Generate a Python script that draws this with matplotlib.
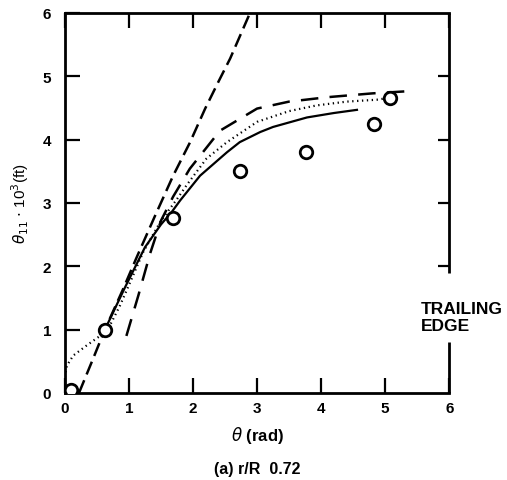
import matplotlib.pyplot as plt
import numpy as np

plt.rcParams['font.family'] = ['Liberation Sans', 'DejaVu Sans']
plt.rcParams['mathtext.fontset'] = 'dejavusans'

# measured points (circles)
meas_x = [0.10, 0.62, 1.68, 2.74, 3.77, 4.82, 5.07]
meas_y = [0.05, 0.99, 2.77, 3.50, 3.80, 4.25, 4.66]

# steep long-dash curve
steep_x = [0.22, 0.44, 0.62, 0.90, 1.12, 1.40, 1.69, 1.95, 2.19, 2.40, 2.58, 2.89]
steep_y = [0.0, 0.54, 0.99, 1.62, 2.14, 2.78, 3.43, 3.95, 4.49, 4.92, 5.28, 6.0]

# medium dash curve
dash_x = [0.96, 1.15, 1.33, 1.50, 1.69, 1.95, 2.42, 3.00, 3.50, 4.10, 4.80, 5.45]
dash_y = [0.90, 1.55, 2.20, 2.72, 3.10, 3.54, 4.14, 4.49, 4.60, 4.67, 4.73, 4.77]

# solid curve
solid_x = [0.62, 0.94, 1.25, 1.50, 1.67, 1.80, 2.11, 2.53, 2.73, 3.05, 3.25, 3.78, 4.20, 4.56]
solid_y = [0.99, 1.67, 2.30, 2.66, 2.86, 3.04, 3.43, 3.80, 3.96, 4.12, 4.20, 4.35, 4.42, 4.47]

# dotted curve
dot_x = [0.0, 0.03, 0.13, 0.34, 0.52, 0.62, 0.70, 0.86, 1.02, 1.22, 1.50, 1.75, 1.90,
         2.21, 2.53, 3.00, 3.50, 3.93, 4.40, 4.87, 5.00]
dot_y = [0.25, 0.43, 0.59, 0.75, 0.88, 0.95, 1.06, 1.38, 1.75, 2.22, 2.72, 3.06, 3.28,
         3.70, 3.96, 4.28, 4.45, 4.54, 4.60, 4.63, 4.65]

fig = plt.figure(figsize=(5.07, 4.81), dpi=100)
ax = fig.add_axes([0.128, 0.181, 0.758, 0.79])

ax.plot(steep_x, steep_y, color='black', lw=1.8, dashes=(5.5, 2.5))
ax.plot(dash_x, dash_y, color='black', lw=1.8, dashes=(7, 4.5))
ax.plot(solid_x, solid_y, color='black', lw=1.6)
ax.plot(dot_x, dot_y, color='black', lw=1.6, linestyle=(0, (0.6, 1.6)))
ax.plot(meas_x, meas_y, 'o', ms=9, mfc='white', mec='black', mew=2.0, zorder=5)

ax.set_xlim(0, 6)
ax.set_ylim(0, 6)
ax.set_xticks(range(7))
ax.set_yticks(range(7))
ax.tick_params(direction='in', length=11, width=1.6, top=True, right=True,
               labelsize=11)
ax.tick_params(axis='x', pad=6)
ax.tick_params(axis='y', pad=10)
for lab in ax.get_xticklabels() + ax.get_yticklabels():
    lab.set_fontweight('bold')
for s in ax.spines.values():
    s.set_linewidth(2.0)

# gap in right spine for the trailing-edge label
ax.spines['right'].set_visible(False)
ax.plot([6, 6], [0, 0.8], color='black', lw=2.0, clip_on=False, solid_capstyle='butt')
ax.plot([6, 6], [1.9, 6], color='black', lw=2.0, clip_on=False, solid_capstyle='butt')
ax.tick_params(right=False)
for yv in [2, 3, 4, 5]:
    ax.plot([5.83, 6], [yv, yv], color='black', lw=1.6, solid_capstyle='butt')

ax.text(5.55, 1.2, 'TRAILING\nEDGE', fontsize=12.5, fontweight='bold',
        ha='left', va='center', linespacing=1.15)

ax.set_xlabel(r'$\theta$ (rad)', fontsize=12, fontweight='bold', labelpad=6)
ax.set_ylabel(r'$\theta_{11}$ $\cdot$ 10$^3$(ft)', fontsize=11, labelpad=8)
fig.text(0.507, 0.023, '(a) r/R  0.72', fontsize=11.5, fontweight='bold',
         ha='center', va='center')

fig.savefig('out.png', dpi=100)
